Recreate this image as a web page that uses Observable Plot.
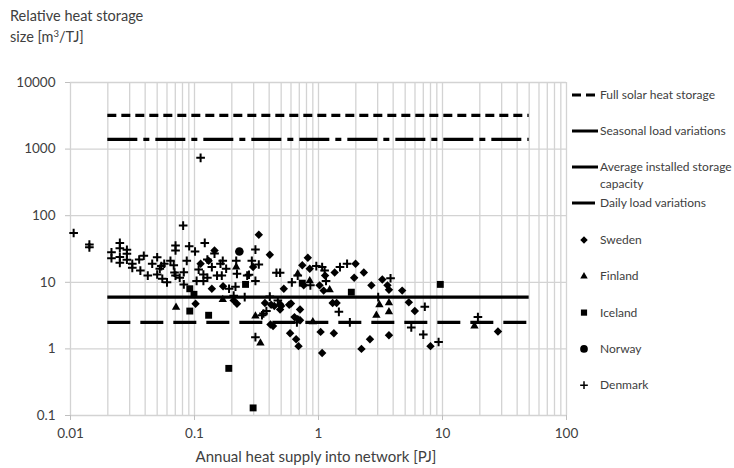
<!DOCTYPE html>
<html><head><meta charset="utf-8">
<script src="https://cdn.jsdelivr.net/npm/d3@7"></script>
<script src="https://cdn.jsdelivr.net/npm/@observablehq/plot@0.6"></script>
<style>body{margin:0;background:#fff;font-family:Lato,sans-serif}</style>
</head><body><div id="chart"></div><script>
// ---- data ----
const xTicks = [0.01, 0.1, 1, 10, 100];
const yTicks = [0.1, 1, 10, 100, 1000, 10000];
const refNames = ["Full solar heat storage", "Seasonal load variations", "Average installed storage capacity", "Daily load variations"];
const refValues = [3200, 1400, 6, 2.5];
const refRange = [0.02, 50];
const countries = ["Sweden", "Finland", "Iceland", "Norway", "Denmark"];

const sweden = [[0.102,4.75],[0.112,19],[0.13,21],[0.138,8],[0.145,30],[0.17,8.7],[0.207,5.35],[0.22,4.75],[0.297,17],
 [0.33,51.6],[0.405,26],[0.37,4.9],[0.415,4.6],[0.44,4.4],[0.41,2.33],[0.43,2.2],[0.49,4.7],[0.49,3.9],[0.5,4.4],[0.525,8],
 [0.58,4.6],[0.6,4.8],[0.59,1.72],[0.64,3.0],[0.66,1.4],[0.68,2.8],[0.69,1.1],[0.71,2.7],[0.71,3.9],[0.74,18],[0.76,9],
 [0.82,23.3],[0.85,16],[1.02,9],[1.04,1.8],[1.07,0.87],[1.1,7.5],[1.13,12.6],[1.3,4.9],[1.4,4.9],[1.33,1.72],[1.35,14],
 [1.94,11.7],[1.99,19],[2.22,1.0],[2.32,14],[2.6,1.4],[2.67,9],[3.27,11],[3.6,9],[3.7,7.7],[3.7,1.6],[4.73,7.5],[5.35,5.0],
 [5.98,3.7],[8.0,1.1],[28,1.82]];
const finland = [[0.071,4.2],[0.169,5.5],[0.217,16.9],[0.31,3.1],[0.34,1.22],[0.68,13.4],[0.85,10.5],[0.9,2.55],[1.23,7.7],
 [2.93,3.2],[3.1,4.6],[3.7,4.9],[3.7,3.6],[18.1,2.2]];
const iceland = [[0.0916,8],[0.099,6.6],[0.0916,3.7],[0.13,3.2],[0.189,0.51],[0.258,9.3],[0.297,0.13],[0.74,9.7],[1.84,7.1],[9.6,9.3]];
const norway = [[0.23,29]];
const denmark = [[0.0106,55],[0.0142,37],[0.0142,33.5],[0.025,39],[0.025,32.5],[0.025,24],[0.025,19.6],[0.0214,28.3],[0.0214,23],
 [0.0285,30.8],[0.0285,26.8],[0.0285,21.8],[0.0315,19],[0.0315,16.5],[0.0358,22],[0.0366,15],[0.039,25],[0.042,12.6],
 [0.0456,19],[0.05,23.8],[0.0525,16],[0.05,13.1],[0.054,17.5],[0.055,11.3],[0.057,19],[0.06,10],[0.064,21],[0.068,18],
 [0.069,14],[0.0703,12.6],[0.0703,35.7],[0.0703,30],[0.076,11.7],[0.081,71],[0.082,14.2],[0.082,9.3],[0.0866,21],[0.0906,34.8],
 [0.101,29],[0.112,740],[0.121,39],[0.127,22],[0.127,11.7],[0.138,16.9],[0.145,27],[0.104,10.5],[0.118,10.5],[0.108,15.5],
 [0.118,13.1],[0.162,19],[0.169,21],[0.18,16],[0.152,12.6],[0.166,12.6],[0.19,8],[0.214,8.6],[0.207,6.3],[0.217,21],
 [0.22,13.4],[0.254,6],[0.266,12.6],[0.275,13],[0.29,21],[0.31,31],[0.31,10.5],[0.33,18.5],[0.31,1.5],[0.35,3.2],[0.36,3.4],
 [0.38,3.7],[0.405,6.1],[0.458,13.9],[0.49,13.9],[0.47,5.35],[0.61,10],[0.68,12.6],[0.67,2.5],[0.86,9],[0.96,17.5],[1.07,17],
 [1.12,15],[1.15,10.5],[1.49,16.9],[1.70,19],[1.46,3.6],[1.79,2.5],[3.03,6],[3.81,11.5],[5.6,2.1],[7.0,1.64],[7.2,4.3],
 [9.3,1.27],[19.3,3.0]];

// ---- styles ----
const refDash = ["9,5", "30,6,6,6", null, "23,10"];
const sym = {Sweden: {s: "diamond2", r: 3.8, fill: true}, Finland: {s: "triangle", r: 3.1, fill: true},
  Iceland: {s: "square", r: 3.9, fill: true}, Norway: {s: "circle", r: 4.3, fill: true}, Denmark: {s: "plus", r: 2.9, fill: false}};
const series = {Sweden: sweden, Finland: finland, Iceland: iceland, Norway: norway, Denmark: denmark};

const minorX = [];
for (const d of [0.01, 0.1, 1, 10]) for (let k = 1; k <= 9; k++) minorX.push(+(k * d).toPrecision(3));
minorX.push(100);

const gridColor = "#d3d3d3";
const marks = [
  Plot.ruleX(minorX, {stroke: gridColor, strokeWidth: 1.3}),
  Plot.ruleY(yTicks, {stroke: gridColor, strokeWidth: 1.3}),
  Plot.axisX(xTicks, {tickSize: 5, tickPadding: 8, stroke: "#bfbfbf", fill: "#404040", tickFormat: d => String(d), label: null}),
  Plot.axisY(yTicks, {tickSize: 5, tickPadding: 10, stroke: "#bfbfbf", fill: "#404040", tickFormat: d => String(d), label: null}),
];
refValues.forEach((v, i) => {
  marks.push(Plot.ruleY([v], {x1: refRange[0], x2: refRange[1], stroke: "black", strokeWidth: 3.2, strokeDasharray: refDash[i] || undefined}));
});
for (const c of countries) {
  const st = sym[c];
  marks.push(Plot.dot(series[c], {x: d => d[0], y: d => d[1], symbol: st.s, r: st.r,
    fill: st.fill ? "black" : "none", stroke: st.fill ? "none" : "black", strokeWidth: st.fill ? 0 : 2}));
}

const chart = Plot.plot({
  width: 734, height: 468,
  marginLeft: 70, marginRight: 168, marginTop: 82, marginBottom: 53,
  style: {fontFamily: "Lato, sans-serif", fontSize: "13.5px", background: "#fff"},
  x: {type: "log", domain: [0.01, 100]},
  y: {type: "log", domain: [0.1, 10000]},
  marks
});
document.getElementById("chart").appendChild(chart);

// titles and legend
const svg = d3.select(chart);
const txt = "#404040";
const yt = svg.append("text").attr("x", 10).attr("y", 21).attr("fill", txt).attr("text-anchor", "start").style("font-size", "14.5px");
yt.append("tspan").text("Relative heat storage");
const yt2 = svg.append("text").attr("x", 10).attr("y", 42).attr("fill", txt).attr("text-anchor", "start").style("font-size", "14.5px");
yt2.append("tspan").text("size [m");
yt2.append("tspan").attr("dy", -5).style("font-size", "9.5px").text("3");
yt2.append("tspan").attr("dy", 5).text("/TJ]");
svg.append("text").attr("x", 316).attr("y", 462).attr("text-anchor", "middle").attr("fill", txt)
  .style("font-size", "15px").text("Annual heat supply into network [PJ]");

const lg = svg.append("g").style("font-size", "12px").attr("fill", txt).attr("text-anchor", "start");
const refY = [95, 131, 167, 203];
refNames.forEach((n, i) => {
  const y = refY[i];
  lg.append("line").attr("x1", 572).attr("x2", 598).attr("y1", y).attr("y2", y).attr("stroke", "black")
    .attr("stroke-width", 3).attr("stroke-dasharray", refDash[i] || null);
  if (i === 2) {
    const t = lg.append("text").attr("x", 600).attr("y", y + 4);
    t.append("tspan").attr("x", 600).text("Average installed storage");
    t.append("tspan").attr("x", 600).attr("dy", 17).text("capacity");
  } else {
    lg.append("text").attr("x", 600).attr("y", y + 4).text(n);
  }
});
const symMap = {diamond2: d3.symbolDiamond2, triangle: d3.symbolTriangle, square: d3.symbolSquare, circle: d3.symbolCircle, plus: d3.symbolPlus};
countries.forEach((c, i) => {
  const y = 240 + i * 36.3;
  const st = sym[c];
  lg.append("path").attr("transform", `translate(584,${y})`)
    .attr("d", d3.symbol(symMap[st.s], st.r * st.r * Math.PI * 0.8)())
    .attr("fill", st.fill ? "black" : "none").attr("stroke", st.fill ? "none" : "black").attr("stroke-width", 1.5);
  lg.append("text").attr("x", 600).attr("y", y + 4).text(c);
});
</script></body></html>
